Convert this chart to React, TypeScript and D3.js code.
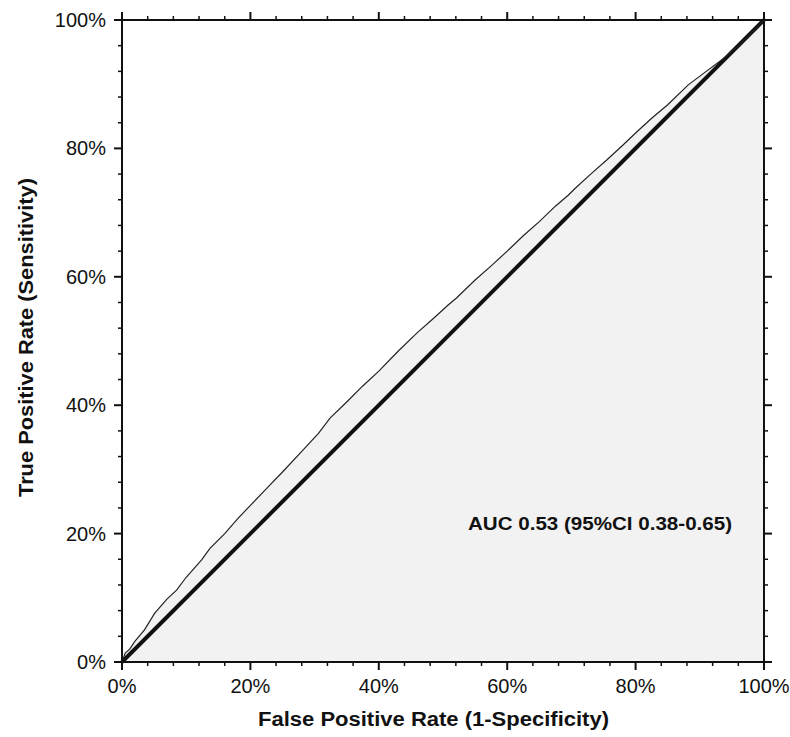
import React from "react";
import * as d3 from "d3";

const fprValues = [0, 0.005, 0.012, 0.02, 0.035, 0.051, 0.07, 0.085, 0.1, 0.124, 0.137, 0.16, 0.18, 0.2, 0.225, 0.25, 0.28, 0.306, 0.324, 0.35, 0.375, 0.4, 0.43, 0.46, 0.485, 0.508, 0.521, 0.55, 0.575, 0.6, 0.625, 0.65, 0.675, 0.695, 0.706, 0.73, 0.755, 0.78, 0.8, 0.825, 0.85, 0.882, 0.91, 0.937, 0.96, 0.98, 1];
const tprValues = [0, 0.014, 0.02, 0.032, 0.05, 0.076, 0.098, 0.112, 0.132, 0.159, 0.177, 0.2, 0.223, 0.244, 0.27, 0.296, 0.328, 0.356, 0.38, 0.405, 0.43, 0.453, 0.484, 0.513, 0.535, 0.556, 0.567, 0.595, 0.617, 0.64, 0.664, 0.686, 0.71, 0.727, 0.738, 0.76, 0.782, 0.805, 0.824, 0.847, 0.868, 0.899, 0.92, 0.94, 0.96, 0.98, 1];
const diagonal = [0, 1];
const majorTicks = [0, 0.2, 0.4, 0.6, 0.8, 1];
const minorTicks = d3.range(0, 26).map((i) => i * 0.04);
const tickLabels = ["0%", "20%", "40%", "60%", "80%", "100%"];
const xTitle = "False Positive Rate (1-Specificity)";
const yTitle = "True Positive Rate (Sensitivity)";
const aucText = "AUC 0.53 (95%CI 0.38-0.65)";

const L = 122, R = 764, T = 20, B = 662;

export default function App() {
  const x = d3.scaleLinear().domain([0, 1]).range([L, R]);
  const y = d3.scaleLinear().domain([0, 1]).range([B, T]);
  const pts: [number, number][] = fprValues.map((f, i) => [f, tprValues[i]]);
  const line = d3.line<[number, number]>().x((d) => x(d[0])).y((d) => y(d[1]));
  const area = d3.area<[number, number]>().x((d) => x(d[0])).y0(y(0)).y1((d) => y(d[1]));
  const font = "'Liberation Sans', Arial, sans-serif";
  return (
    <svg width={790} height={737} style={{ position: "absolute", left: 0, top: 0, background: "#fff" }}>
      <path d={area(pts) || ""} fill="#f2f2f2" />
      <path d={line(diagonal.map((d) => [d, d] as [number, number])) || ""} stroke="#111" strokeWidth={4} fill="none" />
      <path d={line(pts) || ""} stroke="#222" strokeWidth={1.2} fill="none" />
      <rect x={L} y={T} width={R - L} height={B - T} fill="none" stroke="#111" strokeWidth={2} />
      {minorTicks.map((t, i) => {
        const major = majorTicks.some((m) => Math.abs(m - t) < 1e-9);
        const len = major ? 8 : 4;
        return (
          <g key={i} stroke="#111" strokeWidth={major ? 2 : 1.5}>
            <line x1={x(t)} x2={x(t)} y1={B} y2={B + len} />
            <line x1={x(t)} x2={x(t)} y1={T} y2={T - len} />
            <line x1={L} x2={L - len} y1={y(t)} y2={y(t)} />
            <line x1={R} x2={R + len} y1={y(t)} y2={y(t)} />
          </g>
        );
      })}
      {majorTicks.map((t, i) => (
        <text key={"x" + i} x={x(t)} y={693} textAnchor="middle" fontFamily={font} fontSize={20} fill="#111">
          {tickLabels[i]}
        </text>
      ))}
      {majorTicks.map((t, i) => (
        <text key={"y" + i} x={106} y={y(t)} dy="0.35em" textAnchor="end" fontFamily={font} fontSize={20} fill="#111">
          {tickLabels[i]}
        </text>
      ))}
      <text x={258} y={726} textLength={351} lengthAdjust="spacingAndGlyphs" fontFamily={font} fontSize={20} fontWeight="bold" fill="#111">
        {xTitle}
      </text>
      <text transform="translate(33,497) rotate(-90)" x={0} y={0} textLength={319} lengthAdjust="spacingAndGlyphs" fontFamily={font} fontSize={20} fontWeight="bold" fill="#111">
        {yTitle}
      </text>
      <text x={468} y={530} textLength={264} lengthAdjust="spacingAndGlyphs" fontFamily={font} fontSize={18} fontWeight="bold" fill="#111">
        {aucText}
      </text>
    </svg>
  );
}
